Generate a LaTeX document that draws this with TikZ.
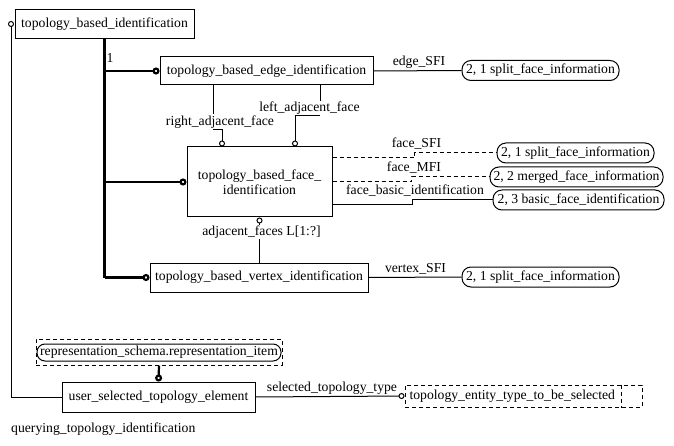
\documentclass[tikz,border=0pt]{standalone}
\usepackage{fontspec}
\setmainfont{Liberation Serif}
\usetikzlibrary{arrows.meta}

\begin{document}
\begin{tikzpicture}[x=1pt, y=-1pt, font=\fontsize{13.7}{15.5}\selectfont,
    entity/.style={draw, line width=1pt, inner sep=0pt},
    selnode/.style={draw, line width=1pt, rounded corners=9pt, minimum width=#1, minimum height=20, inner sep=0pt},
    rel/.style={line width=1pt},
    sub/.style={line width=2.2pt},
    ring/.style={-{Circle[open, length=6pt]}},
    bigring/.style={-{Circle[open, length=7pt]}},
    dashline/.style={dash pattern=on 4pt off 3pt}]
    \useasboundingbox (0,0) rectangle (674,446);

    % entities
    \node[entity, minimum width=179, minimum height=29] (tbi) at (104.5,24.5) {topology\_based\_identification};
    \node[entity, minimum width=213, minimum height=28] (edge) at (266.5,71) {topology\_based\_edge\_identification};
    \node[entity, minimum width=145, minimum height=70, align=center] (face) at (259.5,182) {topology\_based\_face\_\\identification};
    \node[entity, minimum width=218, minimum height=29] (vertex) at (259,277.5) {topology\_based\_vertex\_identification};
    \node[entity, minimum width=193, minimum height=30] (user) at (158.5,397) {user\_selected\_topology\_element};

    % references to other pages
    \node[selnode=157] (esfi) at (540.5,70.5) {2, 1 split\_face\_information};
    \node[selnode=157] (fsfi) at (575.5,153) {2, 1 split\_face\_information};
    \node[selnode=173] (fmfi) at (576.5,177) {2, 2 merged\_face\_information};
    \node[selnode=171] (fbid) at (578.5,200) {2, 3 basic\_face\_identification};
    \node[selnode=157] (vsfi) at (540.5,277) {2, 1 split\_face\_information};

    \node[draw, dashline, line width=1pt, minimum width=246, minimum height=26] (repo) at (159,352) {};
    \node[selnode=244, minimum height=17, rounded corners=8pt] (repi) at (159,352.5) {representation\_schema.representation\_item};

    \node[draw, dashline, line width=1pt, minimum width=237, minimum height=22, text width=228, align=left] (ttype) at (523.5,396) {topology\_entity\_type\_to\_be\_selected};
    \draw[dashline, line width=1pt] ([xshift=-21pt]ttype.north east) -- ([xshift=-21pt]ttype.south east);

    % subtype tree
    \draw[sub] (tbi.south) -- (tbi.south |- vertex.west);
    \foreach \n in {edge, face, vertex}
        \draw[sub, bigring] (tbi.south |- \n.west) -- (\n.west);
    \node (one) at (110,58) {1};

    % attributes
    \draw[rel] (edge.east) -- (esfi.west);
    \node (esfil) at (419,62) {edge\_SFI};

    \node[inner sep=1pt] (rafl) at (220,122) {right\_adjacent\_face};
    \draw[rel] ([xshift=-53.5pt]edge.south) -- ([xshift=-53.5pt]edge.south |- rafl.north);
    \draw[rel, ring] ([xshift=-7pt]rafl.south) -| ([xshift=-37.5pt]face.north);

    \node[inner sep=1pt] (lafl) at (309.5,108) {left\_adjacent\_face};
    \draw[rel] ([xshift=53.5pt]edge.south) -- ([xshift=53.5pt]edge.south |- lafl.north);
    \draw[rel, ring] ([xshift=10.5pt]lafl.south) -| ([xshift=35.5pt]face.north);

    \draw[rel, dashline] ([yshift=24pt]face.east) -- ++(82,0) |- (fsfi.west);
    \node (fsfil) at (416.5,144) {face\_SFI};
    \draw[rel, dashline] (face.east) -- ++(79,0) |- (fmfi.west);
    \node (fmfil) at (414,168) {face\_MFI};
    \draw[rel] ([yshift=-23pt]face.east) -- ++(80,0) |- (fbid.west);
    \node (fbidl) at (415,191) {face\_basic\_identification};

    \node[inner sep=1pt] (adjl) at (261.5,232) {adjacent\_faces L[1:?]};
    \draw[rel, ring] ([xshift=-2pt]adjl.north) -- (face.south);
    \draw[rel] ([xshift=-2pt]adjl.south) -- ([xshift=-2pt]adjl.south |- vertex.north);

    \draw[rel] (vertex.east) -- (vsfi.west);
    \node (vsfil) at (415.5,269) {vertex\_SFI};

    % user selected element
    \draw[sub, bigring] (repo.south) -- (user.north);
    \draw[rel, ring] (user.west) -| ([xshift=-3.5pt, yshift=3.5pt]tbi.west);
    \draw[rel, ring] (user.east) -- (ttype.west);
    \node (stl) at (332,388) {selected\_topology\_type};

    \node[anchor=west, inner sep=0pt] (title) at (11,429) {querying\_topology\_identification};
\end{tikzpicture}
\end{document}
